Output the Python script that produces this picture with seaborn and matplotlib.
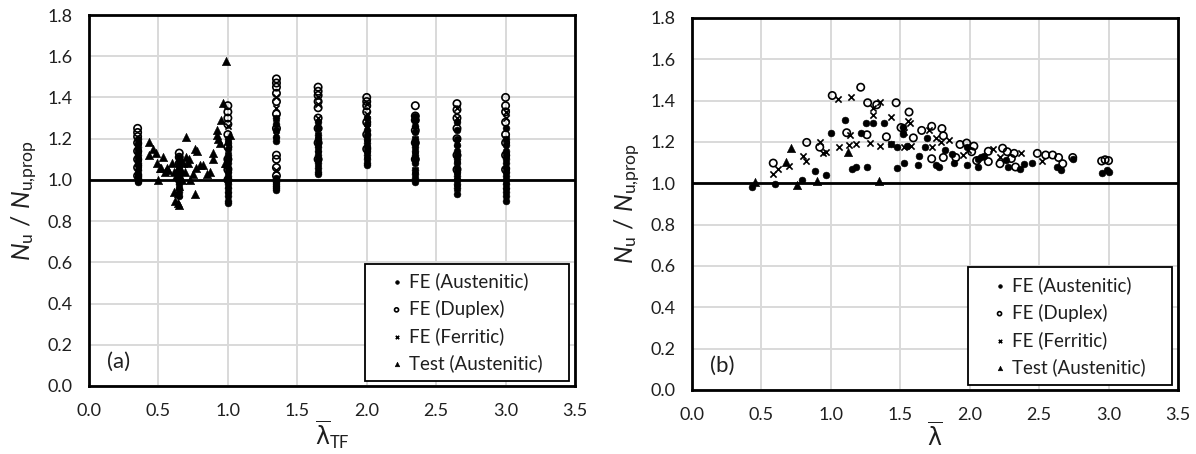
import matplotlib
matplotlib.use("Agg")
import matplotlib.pyplot as plt
from matplotlib.patches import Rectangle
import seaborn as sns
import pandas as pd

# ---------------- data: panel (a) ----------------
lam_tf_cols = [0.35, 0.65, 1.0, 1.35, 1.65, 2.0, 2.35, 2.65, 3.0]
a_aus = [
    [0.99, 1.00, 1.01, 1.02, 1.03, 1.05, 1.07, 1.08, 1.10, 1.12, 1.14, 1.16, 1.18, 1.20],
    [0.92, 0.94, 0.96, 0.98, 1.00, 1.01, 1.02, 1.04, 1.05, 1.07, 1.09, 1.11],
    [0.89, 0.90, 0.92, 0.94, 0.96, 0.98, 1.00, 1.02, 1.04, 1.06, 1.08, 1.10, 1.12, 1.15, 1.18, 1.20],
    [0.95, 0.96, 0.97, 0.98, 0.99, 1.00, 1.01, 1.19, 1.21, 1.24, 1.27, 1.30],
    [1.03, 1.04, 1.06, 1.08, 1.10, 1.12, 1.14, 1.16, 1.18, 1.20, 1.22, 1.25, 1.28],
    [1.07, 1.08, 1.10, 1.12, 1.14, 1.16, 1.18, 1.20, 1.22, 1.24, 1.27, 1.30],
    [0.99, 1.01, 1.03, 1.05, 1.08, 1.10, 1.12, 1.14, 1.16, 1.18, 1.20, 1.23, 1.26, 1.29, 1.31],
    [0.93, 0.96, 0.98, 1.00, 1.02, 1.04, 1.06, 1.08, 1.10, 1.12, 1.14, 1.17, 1.20, 1.24, 1.28],
    [0.90, 0.92, 0.94, 0.96, 0.98, 1.00, 1.02, 1.04, 1.06, 1.08, 1.10, 1.12, 1.14, 1.17, 1.20, 1.25],
]
a_dup = [
    [1.02, 1.06, 1.10, 1.14, 1.18, 1.21, 1.23, 1.25],
    [1.00, 1.04, 1.08, 1.11, 1.13],
    [1.00, 1.05, 1.10, 1.16, 1.22, 1.27, 1.30, 1.33, 1.36],
    [1.02, 1.06, 1.10, 1.12, 1.25, 1.32, 1.38, 1.42, 1.45, 1.47, 1.49],
    [1.10, 1.18, 1.25, 1.30, 1.35, 1.38, 1.41, 1.43, 1.45],
    [1.15, 1.22, 1.28, 1.33, 1.36, 1.38, 1.40],
    [1.10, 1.18, 1.24, 1.29, 1.31, 1.36],
    [1.05, 1.12, 1.20, 1.25, 1.30, 1.34, 1.37],
    [1.05, 1.12, 1.18, 1.22, 1.28, 1.33, 1.36, 1.40],
]
a_fer = [
    [1.00, 1.04, 1.08, 1.12, 1.16, 1.19],
    [0.97, 1.01, 1.05, 1.09],
    [0.95, 1.00, 1.05, 1.12, 1.20, 1.26],
    [0.98, 1.05, 1.22, 1.30, 1.35, 1.40],
    [1.08, 1.15, 1.22, 1.30, 1.37, 1.40],
    [1.12, 1.18, 1.25, 1.32, 1.37],
    [1.05, 1.12, 1.20, 1.27, 1.30],
    [0.96, 1.02, 1.10, 1.18, 1.30, 1.35],
    [0.97, 1.05, 1.12, 1.20, 1.30, 1.33],
]
a_test_x = [0.43, 0.43, 0.46, 0.48, 0.49, 0.50, 0.51, 0.52, 0.535, 0.55, 0.56, 0.57, 0.595,
            0.61, 0.61, 0.62, 0.63, 0.64, 0.64, 0.65, 0.65, 0.66, 0.67, 0.68, 0.69, 0.70,
            0.70, 0.71, 0.72, 0.73, 0.75, 0.76, 0.76, 0.77, 0.78, 0.80, 0.82, 0.85, 0.87,
            0.895, 0.895, 0.92, 0.92, 0.93, 0.94, 0.95, 0.967, 0.98, 0.987, 1.015, 0.99]
a_test_y = [1.185, 1.12, 1.15, 1.13, 1.08, 1.00, 1.06, 1.06, 1.11, 1.04, 1.06, 1.05, 1.08,
            1.04, 0.94, 0.90, 1.02, 0.89, 0.935, 0.88, 0.97, 1.05, 1.00, 1.08, 1.04, 1.21,
            1.11, 1.08, 1.10, 1.00, 1.03, 0.93, 1.15, 1.06, 1.14, 1.07, 1.07, 1.03, 1.04,
            1.13, 1.10, 1.24, 1.22, 1.20, 1.18, 1.29, 1.375, 1.08, 1.575, 1.22, 1.08]

# ---------------- data: panel (b) ----------------
b_aus_x = [0.43, 0.60, 0.794, 0.886, 0.963, 1.00, 1.10, 1.155, 1.18, 1.215, 1.25, 1.26, 1.30,
           1.38, 1.43, 1.475, 1.475, 1.52, 1.53, 1.55, 1.625, 1.635, 1.517, 1.69, 1.68, 1.76,
           1.78, 1.82, 1.87, 1.89, 1.978, 1.978, 2.06, 2.06, 2.08, 2.10, 2.26, 2.278, 2.36,
           2.39, 2.45, 2.63, 2.655, 2.742, 2.95, 2.99, 3.00]
b_aus_y = [0.982, 0.995, 1.014, 1.06, 1.039, 1.245, 1.307, 1.071, 1.08, 1.243, 1.29, 1.08, 1.29,
           1.29, 1.188, 1.175, 1.075, 1.24, 1.10, 1.18, 1.09, 1.13, 1.272, 1.22, 1.175, 1.09,
           1.08, 1.16, 1.143, 1.10, 1.175, 1.09, 1.079, 1.12, 1.125, 1.13, 1.115, 1.079, 1.07,
           1.095, 1.098, 1.079, 1.063, 1.12, 1.052, 1.063, 1.055]
b_dup_x = [0.585, 0.826, 0.92, 1.01, 1.114, 1.215, 1.26, 1.265, 1.33, 1.40, 1.47, 1.505, 1.563,
           1.594, 1.654, 1.726, 1.80, 1.81, 1.726, 1.81, 1.90, 1.93, 1.978, 2.014, 2.03, 2.05,
           2.134, 2.134, 2.218, 2.237, 2.27, 2.30, 2.32, 2.33, 2.487, 2.547, 2.597, 2.64, 2.67,
           2.742, 2.95, 2.975, 3.00]
b_dup_y = [1.098, 1.198, 1.175, 1.425, 1.245, 1.465, 1.235, 1.39, 1.38, 1.225, 1.39, 1.27, 1.345,
           1.22, 1.256, 1.276, 1.265, 1.23, 1.119, 1.125, 1.125, 1.188, 1.195, 1.153, 1.18, 1.11,
           1.105, 1.155, 1.095, 1.17, 1.153, 1.12, 1.145, 1.079, 1.145, 1.137, 1.137, 1.125, 1.095,
           1.125, 1.108, 1.114, 1.11]
b_fer_x = [0.58, 0.62, 0.70, 0.80, 0.82, 0.92, 0.94, 0.965, 1.05, 1.06, 1.13, 1.14, 1.145, 1.18,
           1.28, 1.30, 1.30, 1.355, 1.355, 1.43, 1.43, 1.52, 1.53, 1.558, 1.57, 1.575, 1.53,
           1.709, 1.73, 1.76, 1.79, 1.853, 1.95, 1.99, 2.165, 2.218, 2.367, 2.52]
b_fer_y = [1.047, 1.07, 1.082, 1.13, 1.11, 1.20, 1.145, 1.15, 1.41, 1.175, 1.185, 1.235, 1.42, 1.19,
           1.195, 1.366, 1.33, 1.392, 1.18, 1.323, 1.19, 1.26, 1.25, 1.304, 1.29, 1.18, 1.175,
           1.256, 1.175, 1.22, 1.20, 1.21, 1.135, 1.16, 1.164, 1.125, 1.145, 1.11]
b_test_x = [0.454, 0.675, 0.713, 0.758, 0.898, 1.121, 1.347]
b_test_y = [1.006, 1.101, 1.171, 0.99, 1.013, 1.15, 1.011]

labels = ["FE (Austenitic)", "FE (Duplex)", "FE (Ferritic)", "Test (Austenitic)"]
x_ticks = [0.0, 0.5, 1.0, 1.5, 2.0, 2.5, 3.0, 3.5]
y_ticks = [0.0, 0.2, 0.4, 0.6, 0.8, 1.0, 1.2, 1.4, 1.6, 1.8]

# ---------------- style ----------------
sns.set_theme(style="white")
plt.rcParams["font.family"] = ["Lato", "DejaVu Sans"]
plt.rcParams["mathtext.fontset"] = "custom"
plt.rcParams["mathtext.rm"] = "Lato"
plt.rcParams["mathtext.it"] = "Lato:italic"
plt.rcParams["mathtext.sf"] = "DejaVu Sans"

TXT = "#1f1f1f"


def expand(cols, vals):
    xs, ys = [], []
    for c, v in zip(cols, vals):
        xs += [c] * len(v)
        ys += list(v)
    return xs, ys


fig = plt.figure(figsize=(11.96, 4.54), dpi=100)
ax_a = fig.add_axes([89 / 1196, 1 - 386 / 454, 486 / 1196, 371 / 454])
ax_b = fig.add_axes([692 / 1196, 1 - 390 / 454, 486 / 1196, 372 / 454])

ax_x, ax_y = expand(lam_tf_cols, a_aus)
dx, dy = expand(lam_tf_cols, a_dup)
fx, fy = expand(lam_tf_cols, a_fer)
panels = [
    (ax_a, (ax_x, ax_y), (dx, dy), (fx, fy), (a_test_x, a_test_y), "(a)",
     r"$\overline{\mathsf{\lambda}}_{\mathrm{TF}}$"),
    (ax_b, (b_aus_x, b_aus_y), (b_dup_x, b_dup_y), (b_fer_x, b_fer_y), (b_test_x, b_test_y), "(b)",
     r"$\overline{\mathsf{\lambda}}$"),
]

for ax, aus, dup, fer, tst, tag, xlab in panels:
    df_aus = pd.DataFrame({"x": aus[0], "y": aus[1]})
    df_dup = pd.DataFrame({"x": dup[0], "y": dup[1]})
    df_fer = pd.DataFrame({"x": fer[0], "y": fer[1]})
    df_tst = pd.DataFrame({"x": tst[0], "y": tst[1]})
    sns.scatterplot(data=df_aus, x="x", y="y", ax=ax, marker="o", s=24, color="black",
                    edgecolor="black", linewidth=0.4, label=labels[0], zorder=3)
    sns.scatterplot(data=df_dup, x="x", y="y", ax=ax, marker="o", s=28, facecolor="none",
                    edgecolor="black", linewidth=1.2, label=labels[1], zorder=3)
    sns.scatterplot(data=df_fer, x="x", y="y", ax=ax, marker="x", s=20, color="black",
                    linewidth=1.2, label=labels[2], zorder=3)
    sns.scatterplot(data=df_tst, x="x", y="y", ax=ax, marker="^", s=36, color="black",
                    edgecolor="black", linewidth=0.4, label=labels[3], zorder=3)

    ax.axhline(1.0, color="black", lw=2.0, zorder=2.5)
    ax.set_xlim(0, 3.5)
    ax.set_ylim(0, 1.8)
    ax.set_xticks(x_ticks)
    ax.set_yticks(y_ticks)
    ax.set_xticklabels([f"{v:.1f}" for v in x_ticks])
    ax.set_yticklabels([f"{v:.1f}" for v in y_ticks])
    ax.grid(True, color="#d9d9d9", lw=1.4, zorder=0)
    ax.set_axisbelow(True)
    for sp in ax.spines.values():
        sp.set_color("black")
        sp.set_linewidth(2.0)
    ax.tick_params(axis="both", length=0, labelsize=13, colors=TXT)
    ax.tick_params(axis="y", pad=12)
    ax.tick_params(axis="x", pad=12)
    ax.set_xlabel(xlab, fontsize=17, color=TXT, labelpad=0)
    ax.set_ylabel(r"$N_{\mathrm{u}}$ / $N_{\mathrm{u{,}prop}}$", fontsize=18, color=TXT, labelpad=5)
    ax.text(0.037, 0.064, tag, transform=ax.transAxes, fontsize=16, color=TXT,
            ha="left", va="center")

    # legend box
    x0, x1, y0, y1 = 0.568, 0.988, 0.013, 0.33
    ax.add_patch(Rectangle((x0, y0), x1 - x0, y1 - y0, transform=ax.transAxes,
                           facecolor="white", edgecolor="black", lw=1.3, zorder=4.5))
    leg = ax.legend(loc="center", bbox_to_anchor=((x0 + x1) / 2, (y0 + y1) / 2),
                    frameon=False, fontsize=13.5, markerscale=0.55, handlelength=0.5,
                    handletextpad=0.4, labelspacing=0.5, borderpad=0.2)
    leg.set_zorder(5)
    for t in leg.get_texts():
        t.set_color(TXT)

fig.savefig("out.png", dpi=100)
